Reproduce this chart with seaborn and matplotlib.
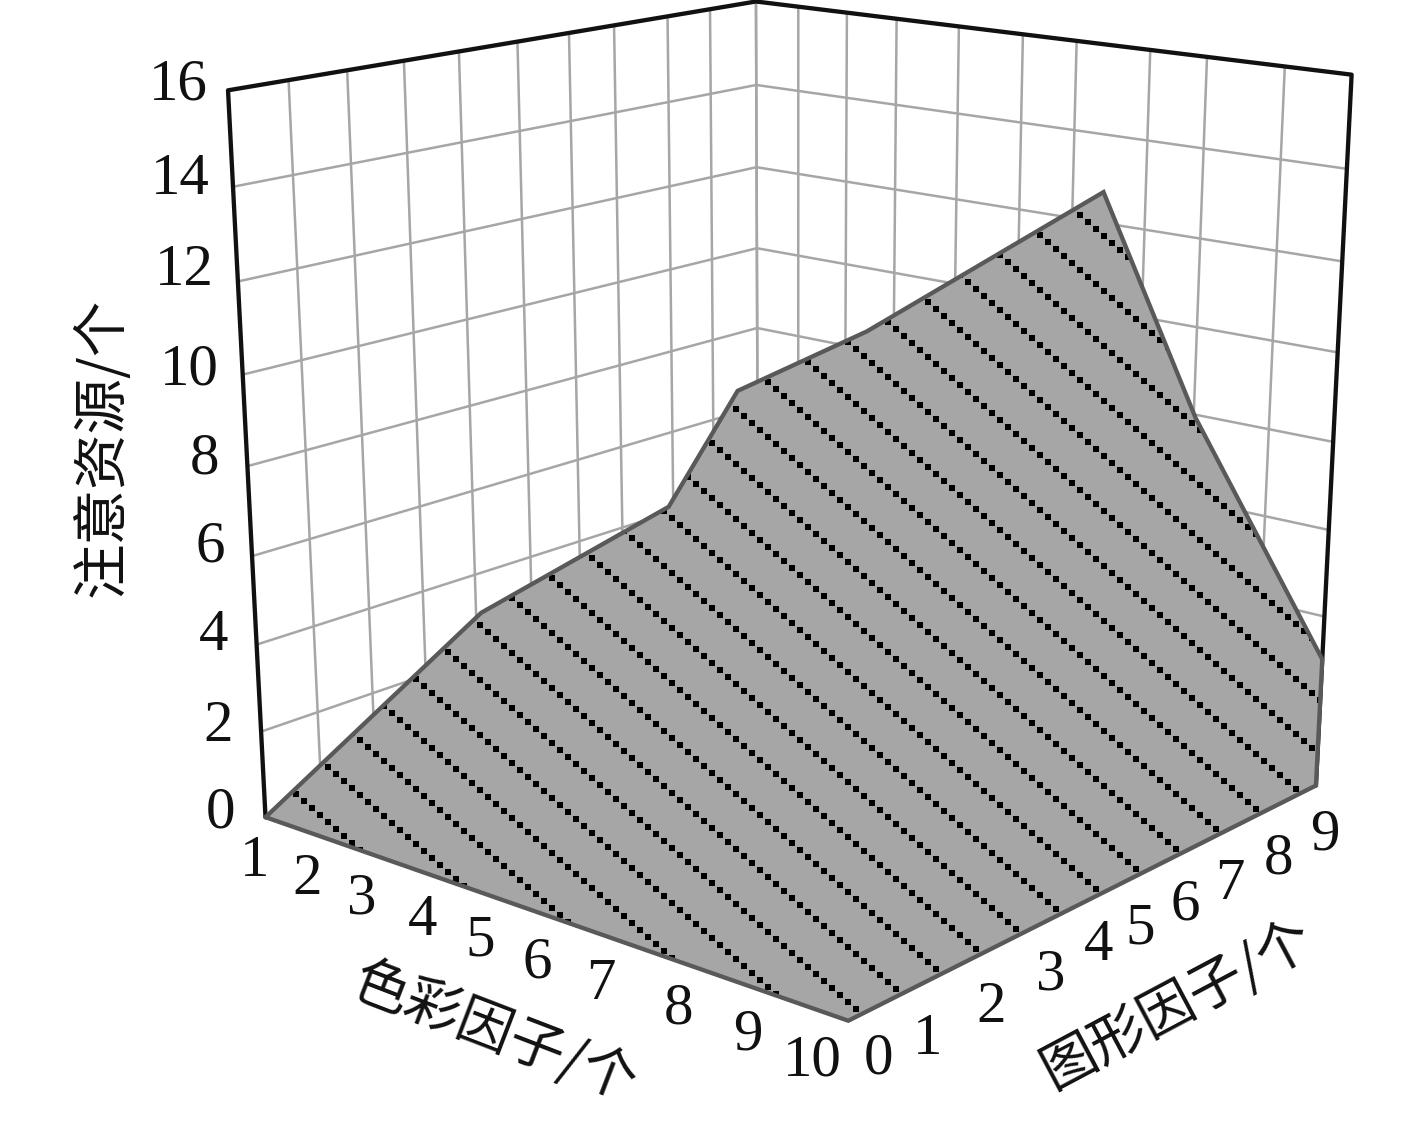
import numpy as np
import seaborn as sns
import matplotlib.pyplot as plt
from matplotlib.lines import Line2D
from matplotlib.transforms import IdentityTransform
from mpl_toolkits.mplot3d.art3d import Poly3DCollection

# Outline of the surface, in axis units (both floor axes span ten intervals)
edge_color = [0, 0, 0, 0, 2.1, 6.21, 7.83, 10, 10, 10]
edge_shape = [0, 4.1, 8.0, 9.55, 10, 10, 10, 10, 10, 0]
edge_attention = [0, 3.04, 4.15, 6.55, 8.45, 12.7, 7.93, 3.0, 0, 0]

# Wall gridlines
shape_grid = [0, 1, 2, 3, 4, 5.1, 6.1, 7, 8.1, 9, 10]
color_grid = [0, 0.8, 1.7, 2.6, 3.7, 4.8, 5.7, 6.9, 7.8, 9, 10]
attention_ticks = [0, 2, 4, 6, 8, 10, 12, 14, 16]

color_labels = ["1", "2", "3", "4", "5", "6", "7", "8", "9", "10"]
shape_labels = ["0", "1", "2", "3", "4", "5", "6", "7", "8", "9"]
attention_labels = ["0", "2", "4", "6", "8", "10", "12", "14", "16"]

# Label placement in pixels
W, H = 1417, 1122
color_label_xy = [(255, 862), (307, 880), (362, 900), (423, 921), (480, 941),
                  (537, 963), (601, 985), (678, 1010), (748, 1035), (812, 1062)]
shape_label_xy = [(879, 1060), (928, 1040), (991, 1008), (1051, 975), (1099, 946),
                  (1140, 930), (1185, 905), (1230, 885), (1278, 860), (1325, 835)]
attention_label_xy = [(220, 813), (218, 727), (214, 636), (210, 548), (205, 460),
                      (189, 370), (184, 271), (180, 180), (178, 85)]

sns.set_theme(style="white")
plt.rcParams["font.family"] = ["Liberation Serif", "DejaVu Serif"]

GRID = "#a6a6a6"
EDGE = "#595959"
FILL = "#a6a6a6"

fig = plt.figure(figsize=(W / 100, H / 100), dpi=100)
side = 1254
ax = fig.add_axes([153 / W, -174 / H, side / W, side / H], projection="3d", computed_zorder=False)
ax.set_proj_type("persp", focal_length=0.52)
ax.view_init(elev=18.6, azim=-49.8)
# the box runs below the floor so the view axis sits low, as in the original
ax.set_box_aspect((1, 1, 1.508), zoom=1.21)
ax.set_xlim(0, 10, view_margin=0)
ax.set_ylim(0, 10, view_margin=0)
ax.set_zlim(-9, 16, view_margin=0)
ax.set_axis_off()

# Walls
for s in shape_grid:
    ax.plot([0, 0], [s, s], [0, 16], color=GRID, lw=1.8, zorder=1, clip_on=False)
for c in color_grid:
    ax.plot([c, c], [10, 10], [0, 16], color=GRID, lw=1.8, zorder=1, clip_on=False)
for z in attention_ticks:
    ax.plot([0, 0, 10], [0, 10, 10], [z, z, z], color=GRID, lw=1.8, zorder=1, clip_on=False)

ax.plot([0, 0, 0, 10, 10], [0, 0, 10, 10, 10], [0, 16, 16, 16, 0], color="#111111", lw=3.1,
        zorder=2, clip_on=False)

verts = [list(zip(edge_color, edge_shape, edge_attention))]
surface = Poly3DCollection(verts, facecolor=FILL, edgecolor="none", zorder=3)
ax.add_collection3d(surface)

fig.canvas.draw()
outline = surface.get_paths()[0]

# Dashed hatch made of square dots, clipped to the surface
hx, hy = [], []
for c in np.arange(-1300, 900, 55):
    for x in np.arange(0, W, 8):
        hx.append(x)
        hy.append(H - (0.875 * x + c + 570 % 55))
dots = Line2D(hx, hy, ls="none", marker="s", ms=5, mew=0, color="black",
              transform=IdentityTransform(), zorder=3)
fig.add_artist(dots)
dots.set_clip_path(outline, ax.transData)

px, py = outline.vertices[:, 0], outline.vertices[:, 1]
rim = Line2D(np.r_[px, px[0]], np.r_[py, py[0]], color=EDGE, lw=3.1, transform=ax.transData,
             solid_joinstyle="miter", zorder=4)
fig.add_artist(rim)
rim.set_clip_on(False)

def put_labels(labels, positions):
    for label, (x, y) in zip(labels, positions):
        fig.text(x / W, 1 - y / H, label, fontsize=42.5, color="#111111", ha="center", va="center")

put_labels(color_labels, color_label_xy)
put_labels(shape_labels, shape_label_xy)
put_labels(attention_labels, attention_label_xy)

cjk = ["Noto Sans CJK SC", "DejaVu Sans"]
for text, x, y, rot in [("注意资源/个", 103, 447, 90),
                        ("色彩因子/个", 495, 1034, -21),
                        ("图形因子/个", 1177, 1005, 28)]:
    fig.text(x / W, 1 - y / H, text, family=cjk, fontsize=40, color="#111111", rotation=rot,
             rotation_mode="anchor", ha="center", va="center")

fig.savefig("out.png", dpi=100)
